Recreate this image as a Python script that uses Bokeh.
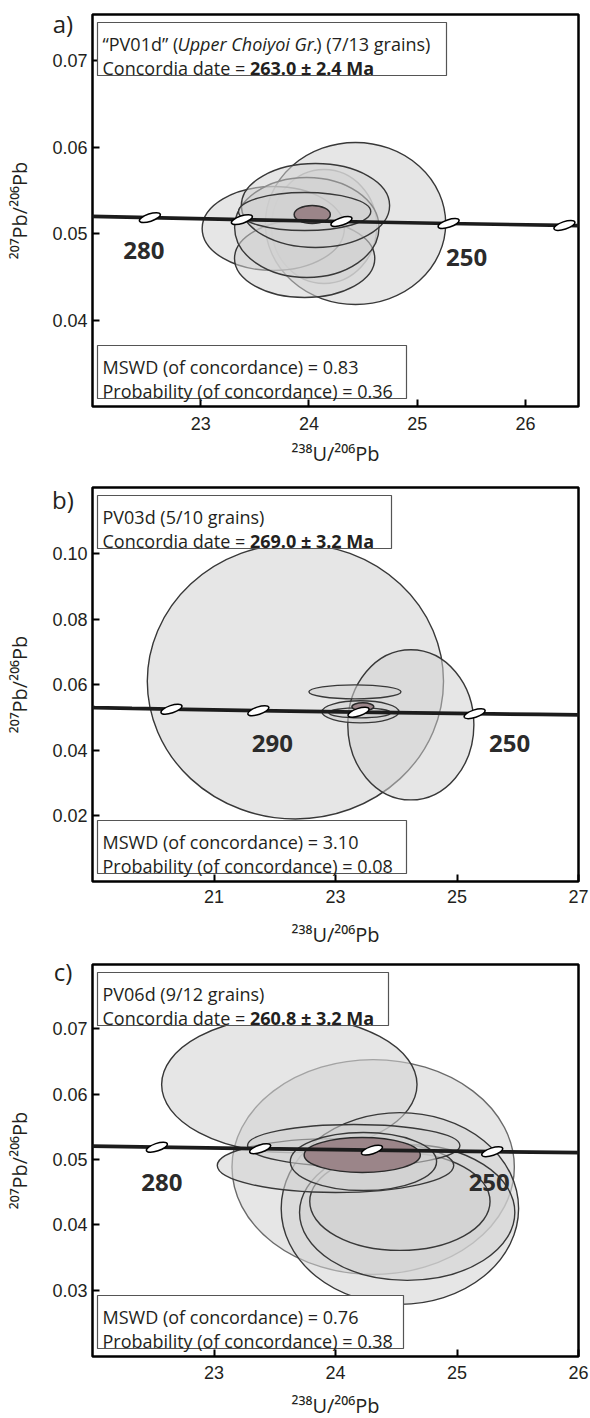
import math
from bokeh.plotting import figure
from bokeh.models import (Range1d, Label, BoxAnnotation, FixedTicker, NumeralTickFormatter,
                          ColumnDataSource, LinearAxis, CustomJSTickFormatter)
from bokeh.layouts import column
from bokeh.embed import file_html
from bokeh.resources import INLINE

# ------------------------------------------------------------------ data
# Concordia curve (Tera-Wasserburg)
conc_age = [340, 330, 320, 310, 300, 290, 280, 270, 260, 250, 240, 230]
conc_x = [18.46, 19.04, 19.65, 20.30, 20.99, 21.73, 22.53, 23.38, 24.30, 25.29, 26.36, 27.53]
conc_y = [0.05327, 0.05303, 0.05280, 0.05257, 0.05234, 0.05211, 0.05188, 0.05165, 0.05143, 0.05120, 0.05098, 0.05076]

# a) PV01d : grain error ellipses (centre, semi-axes)
a_ell_x = [24.43, 24.14, 23.67, 23.96, 23.98, 24.06, 23.96]
a_ell_y = [0.05120, 0.05085, 0.05062, 0.04716, 0.05074, 0.05328, 0.05258]
a_ell_sx = [0.833, 0.486, 0.657, 0.648, 0.667, 0.685, 0.611]
a_ell_sy = [0.00934, 0.00657, 0.00484, 0.00450, 0.00577, 0.00484, 0.00219]
a_mean = [24.03, 0.05224, 0.167, 0.00104]
a_marker_ages = [280, 270, 260, 250, 240]
a_label_ages = [280, 250]
a_xticks = [23, 24, 25, 26]
a_yticks = [0.04, 0.05, 0.06, 0.07]
a_date = "263.0 ± 2.4 Ma"
a_mswd = "0.83"
a_prob = "0.36"

# b) PV03d
b_ell_x = [22.34, 24.24, 23.32, 23.41, 23.40]
b_ell_y = [0.06107, 0.04779, 0.05786, 0.05176, 0.05145]
b_ell_sx = [2.438, 1.038, 0.758, 0.634, 0.511]
b_ell_sy = [0.04198, 0.02290, 0.00214, 0.00336, 0.00153]
b_mean = [23.45, 0.05330, 0.180, 0.00120]
b_marker_ages = [310, 290, 270, 250]
b_label_ages = [290, 250]
b_xticks = [21, 23, 25, 27]
b_yticks = [0.02, 0.04, 0.06, 0.08, 0.10]
b_date = "269.0 ± 3.2 Ma"
b_mswd = "3.10"
b_prob = "0.08"

# c) PV06d
c_ell_x = [24.31, 23.62, 24.53, 24.59, 24.53, 24.00, 24.15, 24.23]
c_ell_y = [0.04885, 0.06145, 0.04252, 0.04191, 0.04359, 0.04908, 0.05214, 0.04969]
c_ell_sx = [1.162, 1.051, 0.977, 0.886, 0.742, 0.973, 0.874, 0.602]
c_ell_sy = [0.01641, 0.01040, 0.01466, 0.01038, 0.00748, 0.00412, 0.00321, 0.00443]
c_mean = [24.22, 0.05069, 0.478, 0.00267]
c_marker_ages = [280, 270, 260, 250]
c_label_ages = [280, 250]
c_xticks = [23, 24, 25, 26]
c_yticks = [0.03, 0.04, 0.05, 0.06, 0.07]
c_date = "260.8 ± 3.2 Ma"
c_mswd = "0.76"
c_prob = "0.38"

# ------------------------------------------------------------------ style
FW = 486
TXT = "#231f20"
FONT = "Open Sans"
DARK = "#383838"
LIGHT = "#a6a6a6"
XTITLE = "²³⁸U/²⁰⁶Pb"
YTITLE = "²⁰⁷Pb/²⁰⁶Pb"

# approximate Open Sans advance widths (1/2048 em) used to chain text runs
_W = {" ": 532, "“": 717, "”": 717, "(": 563, ")": 563, ".": 545, "/": 752, "=": 1171, "±": 1171,
      "C": 1292, "G": 1492, "M": 1849, "P": 1221, "U": 1473, "V": 1186, "a": 1139, "c": 975,
      "d": 1255, "e": 1149, "g": 1122, "h": 1257, "i": 518, "n": 1257, "o": 1237, "p": 1255,
      "r": 836, "s": 977, "t": 723, "y": 1026}


def text_w(s, size, italic=False):
    w = sum(_W.get(ch, 1171) for ch in s) / 2048.0 * size
    return w * (0.93 if italic else 1.0)


def build(cfg):
    xr, yr, fh, bb = cfg["xr"], cfg["yr"], cfg["fh"], cfg["bb"]
    p = figure(frame_width=FW, frame_height=fh, x_range=Range1d(*xr), y_range=Range1d(*yr),
               min_border_left=92, min_border_right=12, min_border_top=14, min_border_bottom=bb,
               output_backend="svg", toolbar_location=None, tools="")
    p.background_fill_color = "white"
    p.border_fill_color = "white"
    p.grid.visible = False
    p.outline_line_color = "black"
    p.outline_line_width = 2.5
    p.outline_line_alpha = 1.0
    for ax in (p.xaxis[0], p.yaxis[0]):
        ax.axis_line_color = None
        ax.major_tick_in = 7
        ax.major_tick_out = 0
        ax.major_tick_line_width = 2
        ax.major_tick_line_color = "black"
        ax.minor_tick_line_color = None
        ax.major_label_text_font = "Liberation Sans"
        ax.major_label_text_font_size = "18px"
        ax.major_label_text_color = TXT
        ax.axis_label_text_font = FONT
        ax.axis_label_text_font_size = "20px"
        ax.axis_label_text_font_style = "normal"
        ax.axis_label_text_color = TXT
    p.xaxis.ticker = FixedTicker(ticks=cfg["xticks"])
    p.yaxis.ticker = FixedTicker(ticks=cfg["yticks"])
    p.yaxis.formatter = NumeralTickFormatter(format="0.00")
    p.xaxis.major_label_standoff = cfg["xstand"]
    p.yaxis.major_label_standoff = 5
    p.xaxis.axis_label = XTITLE
    p.yaxis.axis_label = YTITLE
    p.xaxis.axis_label_standoff = cfg["xt_stand"]
    p.yaxis.axis_label_standoff = 16

    # panel letter, drawn as the single tick label of a bare axis above the frame
    letter_axis = LinearAxis(ticker=FixedTicker(ticks=[xr[0] + 0.001 * (xr[1] - xr[0])]),
                             formatter=CustomJSTickFormatter(code="return '%s\u2003\u2003\u2002'" % cfg["letter"]),
                             axis_line_color=None, major_tick_line_color=None, minor_tick_line_color=None,
                             major_tick_in=0, major_tick_out=0,
                             major_label_standoff=cfg["letter_stand"], major_label_text_font=FONT,
                             major_label_text_font_size="24px", major_label_text_color=TXT)
    p.add_layout(letter_axis, "above")

    kx = (xr[1] - xr[0]) / FW
    ky = (yr[1] - yr[0]) / fh

    def fx(px):
        return xr[0] + px * kx

    def fy(py):
        return yr[1] - py * ky

    # grain ellipses
    src = ColumnDataSource(dict(x=cfg["ex"], y=cfg["ey"],
                                w=[2 * s for s in cfg["esx"]], h=[2 * s for s in cfg["esy"]],
                                lc=cfg["elc"]))
    p.ellipse(x="x", y="y", width="w", height="h", source=src, fill_color="#d2d2d2",
              fill_alpha=0.55, line_color="lc", line_width=1.4)
    mx, my, msx, msy = cfg["mean"]
    p.ellipse(x=[mx], y=[my], width=[2 * msx], height=[2 * msy], fill_color="#9b8589",
              line_color="#2a2a2a", line_width=1.5)
    # concordia
    p.line(conc_x, conc_y, line_color="#1c1c1c", line_width=3.7)
    idx = [conc_age.index(a) for a in cfg["mages"]]
    p.ellipse(x=[conc_x[i] for i in idx], y=[conc_y[i] for i in idx], width=22, height=7.5,
              angle=0.32, width_units="screen", height_units="screen",
              fill_color="white", line_color="black", line_width=1.5)
    for age, (dx, dy) in zip(cfg["lages"], cfg["loff"]):
        i = conc_age.index(age)
        p.add_layout(Label(x=conc_x[i] + dx * kx, y=conc_y[i] - dy * ky, text=str(age),
                           text_align="center", text_baseline="alphabetic", text_font=FONT,
                           text_font_style="bold", text_font_size="24px", text_color="#2b2b2b"))

    # text boxes
    def box(top, width, lines):
        p.add_layout(BoxAnnotation(left=fx(5), right=fx(5 + width), top=fy(top), bottom=fy(top + 53),
                                   fill_color="white", fill_alpha=1.0, line_color="#555555",
                                   line_width=1.2, line_alpha=1.0))
        for li, runs in enumerate(lines):
            xpos = 10
            base = top + 21.5 + 24 * li
            for text, style in runs:
                p.add_layout(Label(x=fx(xpos), y=fy(base), text=text, text_align="left",
                                   text_baseline="alphabetic", text_font=FONT, text_font_style=style,
                                   text_font_size="18px", text_color=TXT))
                if style == "bold":
                    xpos += text_w(text, 18) * 1.03
                else:
                    xpos += text_w(text, 18, italic=(style == "italic"))

    box(8, cfg["tbw"], [cfg["line1"], [("Concordia date = ", "normal"), (cfg["date"], "bold")]])
    box(fh - 61, cfg["bbw"], [[("MSWD (of concordance) = " + cfg["mswd"], "normal")],
                              [("Probability (of concordance) = " + cfg["prob"], "normal")]])
    return p


pa = build(dict(xr=(22.0, 26.49), yr=(0.0301, 0.0753), fh=392, bb=67, xstand=10, xt_stand=7,
                xticks=a_xticks, yticks=a_yticks,
                ex=a_ell_x, ey=a_ell_y, esx=a_ell_sx, esy=a_ell_sy,
                elc=[DARK, LIGHT, DARK, DARK, DARK, DARK, DARK],
                mean=a_mean, mages=a_marker_ages, lages=a_label_ages, loff=[(-6, 33), (18, 34)],
                tbw=349, bbw=309,
                line1=[("“PV01d” (", "normal"), ("Upper Choiyoi Gr.", "italic"), (") (7/13 grains)", "normal")],
                date=a_date, mswd=a_mswd, prob=a_prob,
                letter="a)", letter_stand=-25))

pb = build(dict(xr=(19.0, 27.0), yr=(0.0, 0.1202), fh=394, bb=67, xstand=8, xt_stand=15,
                xticks=b_xticks, yticks=b_yticks,
                ex=b_ell_x, ey=b_ell_y, esx=b_ell_sx, esy=b_ell_sy,
                elc=[DARK, DARK, DARK, DARK, DARK],
                mean=b_mean, mages=b_marker_ages, lages=b_label_ages, loff=[(14, 33), (35, 30)],
                tbw=294, bbw=309,
                line1=[("PV03d (5/10 grains)", "normal")],
                date=b_date, mswd=b_mswd, prob=b_prob,
                letter="b)", letter_stand=-28))

pc = build(dict(xr=(22.0, 26.0), yr=(0.0199, 0.0798), fh=392, bb=64, xstand=9, xt_stand=10,
                xticks=c_xticks, yticks=c_yticks,
                ex=c_ell_x, ey=c_ell_y, esx=c_ell_sx, esy=c_ell_sy,
                elc=["#6a6a6a", DARK, DARK, DARK, DARK, DARK, DARK, DARK],
                mean=c_mean, mages=c_marker_ages, lages=c_label_ages, loff=[(5, 35), (-3, 31)],
                tbw=291, bbw=306,
                line1=[("PV06d (9/12 grains)", "normal")],
                date=c_date, mswd=c_mswd, prob=c_prob,
                letter="c)", letter_stand=-23))

layout = column(pa, pb, pc, spacing=0)
open("out.html", "w").write(file_html(layout, INLINE))
